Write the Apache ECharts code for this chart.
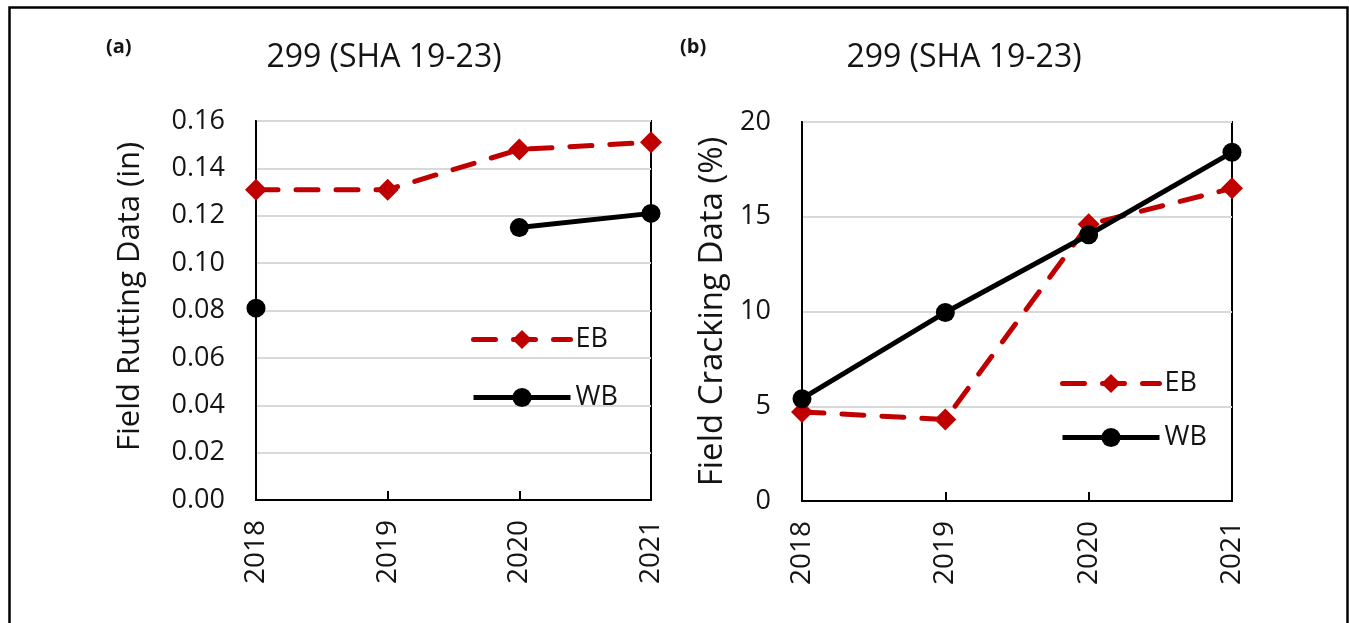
<!DOCTYPE html>
<html>
<head>
<meta charset="utf-8">
<script src="https://cdn.jsdelivr.net/npm/echarts@6/dist/echarts.min.js"></script>
<style>
  html, body { margin: 0; padding: 0; background: #fff; }
  #chart { width: 1349px; height: 623px; }
</style>
</head>
<body>
<div id="chart"></div>
<script>
// Survey years shared by both panels
const years = ['2018', '2019', '2020', '2021'];

// (a) Field rutting depth, inches
const ruttingEB = [0.131, 0.131, 0.148, 0.151];
const ruttingWB = [0.081, null, 0.115, 0.121];

// (b) Field cracking, percent
const crackingEB = [4.7, 4.3, 14.6, 16.5];
const crackingWB = [5.4, 9.95, 14.05, 18.4];

const panelTitle = '299 (SHA 19-23)';
const panelTags = ['(a)', '(b)'];
const yNames = ['Field Rutting Data (in)', 'Field Cracking Data (%)'];

const FONT = '"Open Sans", "Noto Sans", sans-serif';
const TEXT = '#141414';
const RED = '#C00000';

function xAxisFor(i) {
  return {
    type: 'category', gridIndex: i, data: years, boundaryGap: false,
    axisLine: { lineStyle: { color: '#000', width: 2 } },
    axisTick: { show: true, inside: true, length: 9, lineStyle: { color: '#000', width: 2 } },
    axisLabel: { rotate: 90, margin: 20, color: TEXT, fontSize: 28, fontFamily: FONT },
    splitLine: { show: false }
  };
}

function yAxisFor(i, max, interval, digits, nameGap, nameSize, namePad) {
  return {
    type: 'value', gridIndex: i, min: 0, max: max, interval: interval,
    name: yNames[i], nameLocation: 'middle', nameGap: nameGap, nameRotate: 90,
    nameTextStyle: { color: TEXT, fontSize: nameSize, fontFamily: FONT, padding: namePad },
    axisLine: { show: true, lineStyle: { color: '#000', width: 2 } },
    axisTick: { show: false },
    axisLabel: {
      margin: 31, color: TEXT, fontSize: 27, fontFamily: FONT,
      formatter: v => v.toFixed(digits)
    },
    splitLine: { show: true, lineStyle: { color: '#d9d9d9', width: 2 } }
  };
}

function ebSeries(i, data) {
  return {
    name: 'EB', type: 'line', xAxisIndex: i, yAxisIndex: i, data: data,
    symbol: 'diamond', symbolSize: 22,
    itemStyle: { color: RED },
    lineStyle: { color: RED, width: 5, type: [22, 18], cap: 'round' },
    z: 3
  };
}

function wbSeries(i, data) {
  return {
    name: 'WB', type: 'line', xAxisIndex: i, yAxisIndex: i, data: data,
    symbol: 'circle', symbolSize: 19,
    itemStyle: { color: '#000' },
    lineStyle: { color: '#000', width: 5 },
    connectNulls: false,
    z: 4
  };
}

function legendFor(left, top, gap) {
  return {
    orient: 'vertical', left: left, top: top, itemGap: gap,
    itemWidth: 97, itemHeight: 24,
    data: ['EB', 'WB'],
    lineStyle: { width: 5 },
    textStyle: { color: TEXT, fontSize: 27, fontFamily: FONT },
    selectedMode: false
  };
}

const chart = echarts.init(document.getElementById('chart'), null, { renderer: 'canvas' });

chart.setOption({
  animation: false,
  backgroundColor: '#fff',
  title: [
    { text: panelTitle, left: 379, top: 37, textAlign: 'center',
      textStyle: { color: TEXT, fontSize: 32, fontWeight: 'normal', fontFamily: FONT } },
    { text: panelTitle, left: 959, top: 37, textAlign: 'center',
      textStyle: { color: TEXT, fontSize: 32, fontWeight: 'normal', fontFamily: FONT } },
    { text: panelTags[0], left: 101, top: 32,
      textStyle: { color: TEXT, fontSize: 20, fontWeight: 'bold', fontFamily: FONT } },
    { text: panelTags[1], left: 675, top: 32,
      textStyle: { color: TEXT, fontSize: 20, fontWeight: 'bold', fontFamily: FONT } }
  ],
  grid: [
    { left: 256, top: 121, width: 395, height: 379, show: true,
      borderColor: '#000', borderWidth: 2, backgroundColor: 'transparent' },
    { left: 802, top: 122, width: 430, height: 379, show: true,
      borderColor: '#000', borderWidth: 2, backgroundColor: 'transparent' }
  ],
  legend: [legendFor(466, 321, 31), legendFor(1055, 365, 27)],
  xAxis: [xAxisFor(0), xAxisFor(1)],
  yAxis: [
    yAxisFor(0, 0.16, 0.02, 2, 110, 31, [0, 0, 0, 28]),
    yAxisFor(1, 20, 5, 0, 73, 33, 0)
  ],
  series: [
    ebSeries(0, ruttingEB), wbSeries(0, ruttingWB),
    ebSeries(1, crackingEB), wbSeries(1, crackingWB)
  ],
  graphic: [
    { type: 'rect', left: 7, top: 5, silent: true, z: 100,
      shape: { width: 1338, height: 700 },
      style: { fill: 'none', stroke: '#000', lineWidth: 2.5 } }
  ]
});
</script>
</body>
</html>
